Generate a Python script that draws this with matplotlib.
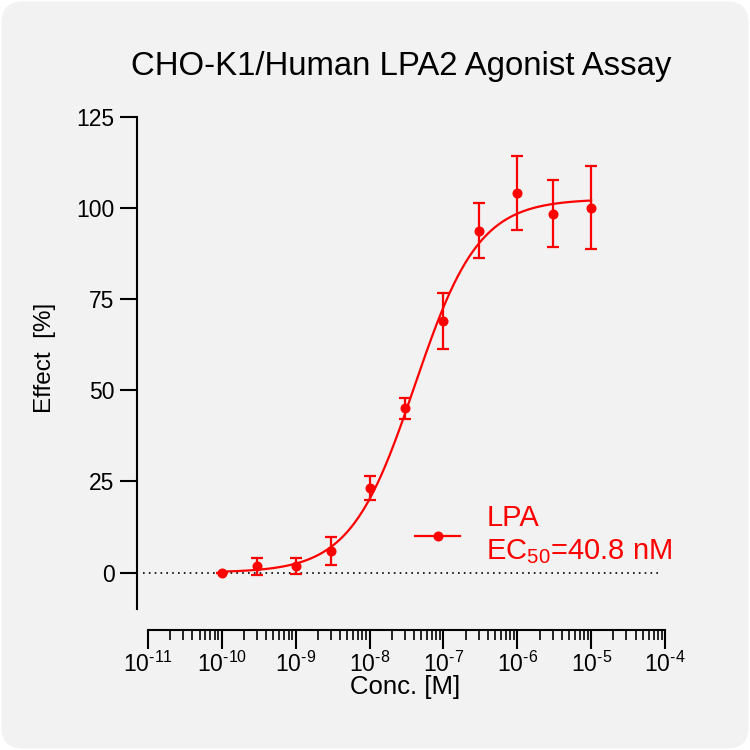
import numpy as np
import matplotlib
matplotlib.use("Agg")
import matplotlib.pyplot as plt
from matplotlib.patches import FancyBboxPatch
from matplotlib.lines import Line2D
from matplotlib.ticker import LogLocator, FixedLocator

plt.rcParams['font.family'] = ['Liberation Sans', 'DejaVu Sans']
plt.rcParams['mathtext.fontset'] = 'custom'
plt.rcParams['mathtext.rm'] = 'Liberation Sans'
plt.rcParams['mathtext.it'] = 'Liberation Sans'

# measured points
conc = [1e-10, 3e-10, 1e-9, 3e-9, 1e-8, 3e-8, 1e-7, 3e-7, 1e-6, 3e-6, 1e-5]
effect = [0.0, 1.7, 1.9, 6.0, 23.1, 45.1, 69.0, 93.8, 104.1, 98.4, 100.1]
err = [0.0, 2.3, 2.2, 3.8, 3.3, 2.9, 7.6, 7.6, 10.2, 9.2, 11.4]

# 4PL fit parameters
bottom, top, ec50, hill = 0.0, 102.5, 40.8e-9, 1.0

xticks = [1e-11, 1e-10, 1e-9, 1e-8, 1e-7, 1e-6, 1e-5, 1e-4]
xlabels = [r'$\mathregular{10^{\text{-}%d}}$' % -int(round(np.log10(v))) for v in xticks]
yticks = [0, 25, 50, 75, 100, 125]

red = '#ff0000'

fig = plt.figure(figsize=(7.5, 7.5), dpi=100)
fig.patch.set_facecolor('white')
bg = FancyBboxPatch((0.002, 0.002), 0.996, 0.996, boxstyle="round,pad=0,rounding_size=0.028",
                    transform=fig.transFigure, facecolor='#f2f2f2', edgecolor='none',
                    zorder=-10)
fig.patches.append(bg)

ax = fig.add_axes([148 / 750, 141 / 750, 517 / 750, 492 / 750])
ax.set_facecolor('none')
ax.set_xscale('log')
ax.set_xlim(1e-11, 1e-4)
ax.set_ylim(-10, 125)

xs = np.logspace(np.log10(conc[0]), np.log10(conc[-1]), 300)
fit = bottom + (top - bottom) / (1 + (ec50 / xs) ** hill)
ax.plot(xs, fit, color=red, lw=1.6, zorder=3)
ax.errorbar(conc, effect, yerr=err, fmt='o', color=red, ms=6.2, elinewidth=1.6,
            capsize=4.5, capthick=1.6, zorder=4)

ax.axhline(0, xmin=-0.01, xmax=0.995, color='black', ls=(0, (1, 2.5)), lw=1.2,
           clip_on=False, zorder=1)

for s in ['top', 'right']:
    ax.spines[s].set_visible(False)
ax.spines['left'].set_position(('outward', 8))
ax.spines['bottom'].set_position(('outward', 15))
ax.spines['left'].set_linewidth(1.5)
ax.spines['bottom'].set_linewidth(1.5)

ax.set_yticks(yticks)
ax.tick_params(axis='y', which='major', length=12, width=1.5, labelsize=16.5, pad=4)
ax.xaxis.set_major_locator(FixedLocator(xticks))
ax.set_xticklabels(xlabels)
ax.xaxis.set_minor_locator(LogLocator(base=10, subs=np.arange(2, 10), numticks=20))
ax.xaxis.set_minor_formatter(plt.NullFormatter())
ax.tick_params(axis='x', which='major', length=14, width=1.5, labelsize=16.5, pad=2)
ax.tick_params(axis='x', which='minor', length=7, width=1.2)

fig.text(401 / 750, 1 - 67 / 750, 'CHO-K1/Human LPA2 Agonist Assay', ha='center', va='center',
         fontsize=23.7)
fig.text(45 / 750, 1 - 358 / 750, 'Effect  [%]', ha='center', va='center', rotation=90,
         fontsize=17.5)
fig.text(405 / 750, 1 - 687 / 750, 'Conc. [M]', ha='center', va='center', fontsize=18.5)

handle = Line2D([], [], color=red, marker='o', ms=6.2, lw=1.6)
ax.legend([handle], ['LPA\nEC$_\\mathregular{50}$=40.8 nM'], loc='center left',
          bbox_to_anchor=(415 / 750, 1 - 535 / 750), bbox_transform=fig.transFigure,
          frameon=False, fontsize=21, labelcolor=red, handlelength=1.55,
          handletextpad=0.9, borderpad=0, borderaxespad=0)

fig.savefig('out.png', dpi=100, facecolor=fig.get_facecolor())
